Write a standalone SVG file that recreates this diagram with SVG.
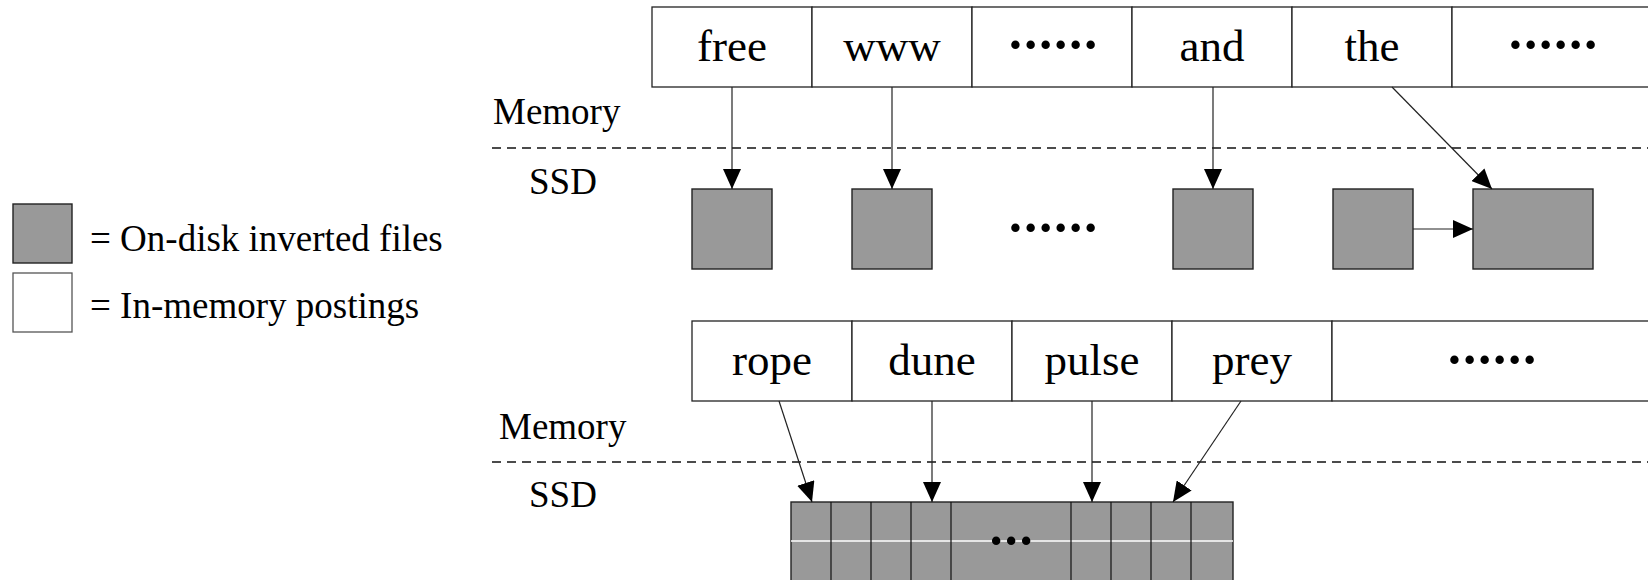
<svg xmlns="http://www.w3.org/2000/svg" width="1648" height="580" viewBox="0 0 1648 580">
  <style>
    .cell { fill: #ffffff; stroke: #222222; stroke-width: 1.3; }
    .disk { fill: #999999; stroke: #222222; stroke-width: 1.4; }
    .t { font-family: "Liberation Serif", "Times New Roman", serif; fill: #000000; }
    .word { font-size: 45px; text-anchor: middle; }
    .dots { font-size: 52px; text-anchor: middle; font-weight: bold; letter-spacing: -2.3px; }
    .lbl { font-size: 37px; }
    .dash { stroke: #111111; stroke-width: 1.3; stroke-dasharray: 9 6; fill: none; }
    .conn { stroke: #222222; stroke-width: 1.2; fill: none; marker-end: url(#arr); }
    .grid { stroke: #111111; stroke-width: 1.2; }
  </style>
  <defs>
    <marker id="arr" markerUnits="userSpaceOnUse" markerWidth="20" markerHeight="18" refX="20" refY="9" orient="auto">
      <path d="M0,0 L20,9 L0,18 Z" fill="#000000"/>
    </marker>
  </defs>

  <rect width="1648" height="580" fill="#ffffff"/>

  <!-- Legend -->
  <g id="legend-disk">
    <rect x="13" y="204" width="59" height="59" class="disk"/>
    <text x="90" y="251" class="t lbl">= On-disk inverted files</text>
  </g>
  <g id="legend-mem">
    <rect x="13" y="273" width="59" height="59" fill="#ffffff" stroke="#555555" stroke-width="1.3"/>
    <text x="90" y="318" class="t lbl">= In-memory postings</text>
  </g>

  <!-- Region labels and dividers -->
  <g id="top-labels">
    <text x="493" y="124" class="t lbl">Memory</text>
    <line x1="492" y1="148" x2="1648" y2="148" class="dash"/>
    <text x="529" y="194" class="t lbl">SSD</text>
  </g>
  <g id="bottom-labels">
    <text x="499" y="439" class="t lbl">Memory</text>
    <line x1="492" y1="462" x2="1648" y2="462" class="dash"/>
    <text x="529" y="507" class="t lbl">SSD</text>
  </g>

  <!-- Top dictionary -->
  <g id="cell-free"><rect x="652" y="7" width="160" height="80" class="cell"/><text x="732" y="61" class="t word">free</text></g>
  <g id="cell-www"><rect x="812" y="7" width="160" height="80" class="cell"/><text x="892" y="61" class="t word">www</text></g>
  <g id="cell-dots1"><rect x="972" y="7" width="160" height="80" class="cell"/><text x="1052" y="61.5" class="t dots">······</text></g>
  <g id="cell-and"><rect x="1132" y="7" width="160" height="80" class="cell"/><text x="1212" y="61" class="t word">and</text></g>
  <g id="cell-the"><rect x="1292" y="7" width="160" height="80" class="cell"/><text x="1372" y="61" class="t word">the</text></g>
  <g id="cell-dots2"><rect x="1452" y="7" width="220" height="80" class="cell"/><text x="1552" y="61.5" class="t dots">······</text></g>

  <!-- Top on-disk files -->
  <g id="file-free"><rect x="692" y="189" width="80" height="80" class="disk"/></g>
  <g id="file-www"><rect x="852" y="189" width="80" height="80" class="disk"/></g>
  <g id="file-dots"><text x="1052" y="244.5" class="t dots">······</text></g>
  <g id="file-and"><rect x="1173" y="189" width="80" height="80" class="disk"/></g>
  <g id="file-the1"><rect x="1333" y="189" width="80" height="80" class="disk"/></g>
  <g id="file-the2"><rect x="1473" y="189" width="120" height="80" class="disk"/></g>

  <!-- Bottom dictionary -->
  <g id="cell-rope"><rect x="692" y="321" width="160" height="80" class="cell"/><text x="772" y="375" class="t word">rope</text></g>
  <g id="cell-dune"><rect x="852" y="321" width="160" height="80" class="cell"/><text x="932" y="375" class="t word">dune</text></g>
  <g id="cell-pulse"><rect x="1012" y="321" width="160" height="80" class="cell"/><text x="1092" y="375" class="t word">pulse</text></g>
  <g id="cell-prey"><rect x="1172" y="321" width="160" height="80" class="cell"/><text x="1252" y="375" class="t word">prey</text></g>
  <g id="cell-dots3"><rect x="1332" y="321" width="340" height="80" class="cell"/><text x="1491" y="376.5" class="t dots">······</text></g>

  <!-- Bottom merged file grid -->
  <g id="merged-file">
    <rect x="791" y="502" width="442" height="100" class="disk"/>
    <line x1="791" y1="541" x2="1233" y2="541" stroke="#ffffff" stroke-width="1.5"/>
    <line x1="831" y1="502" x2="831" y2="580" class="grid"/>
    <line x1="871" y1="502" x2="871" y2="580" class="grid"/>
    <line x1="911" y1="502" x2="911" y2="580" class="grid"/>
    <line x1="951" y1="502" x2="951" y2="580" class="grid"/>
    <line x1="1071" y1="502" x2="1071" y2="580" class="grid"/>
    <line x1="1111" y1="502" x2="1111" y2="580" class="grid"/>
    <line x1="1151" y1="502" x2="1151" y2="580" class="grid"/>
    <line x1="1191" y1="502" x2="1191" y2="580" class="grid"/>
    <text x="1010" y="557.5" class="t dots">···</text>
  </g>

  <!-- Connectors -->
  <g id="connectors">
    <line x1="732" y1="87" x2="732" y2="189" class="conn"/>
    <line x1="892" y1="87" x2="892" y2="189" class="conn"/>
    <line x1="1213" y1="87" x2="1213" y2="189" class="conn"/>
    <line x1="1392" y1="87" x2="1492" y2="189" class="conn"/>
    <line x1="1413" y1="229" x2="1473" y2="229" class="conn"/>
    <line x1="779" y1="401" x2="812" y2="502" class="conn"/>
    <line x1="932" y1="401" x2="932" y2="502" class="conn"/>
    <line x1="1092" y1="401" x2="1092" y2="502" class="conn"/>
    <line x1="1241" y1="401" x2="1173" y2="502" class="conn"/>
  </g>
</svg>
